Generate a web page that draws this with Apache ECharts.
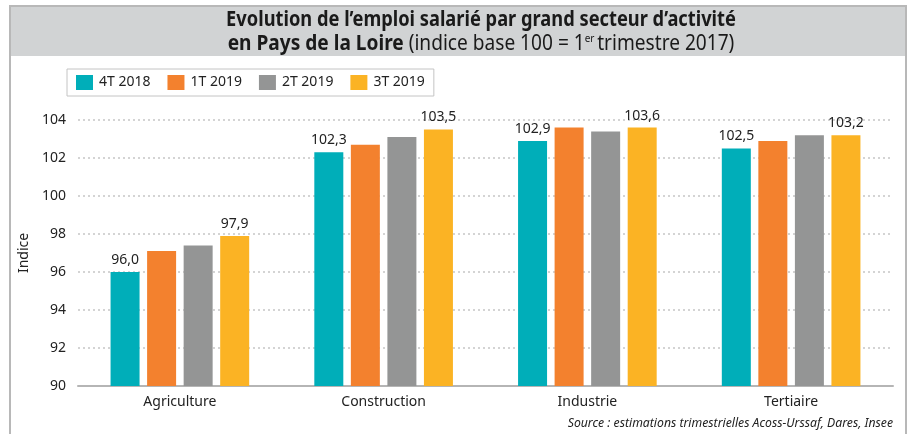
<!DOCTYPE html>
<html>
<head>
<meta charset="utf-8">
<script src="https://cdn.jsdelivr.net/npm/echarts@6/dist/echarts.min.js"></script>
<style>
  html, body { margin: 0; padding: 0; background: #fff; }
  #chart { width: 912px; height: 434px; }
</style>
</head>
<body>
<div id="chart"></div>
<script>
/* ---------------  Données  --------------- */
const secteurs = ['Agriculture', 'Construction', 'Industrie', 'Tertiaire'];
const trimestres = ['4T 2018', '1T 2019', '2T 2019', '3T 2019'];
const t4_2018 = [96.0, 102.3, 102.9, 102.5];
const t1_2019 = [97.1, 102.7, 103.6, 102.9];
const t2_2019 = [97.4, 103.1, 103.4, 103.2];
const t3_2019 = [97.9, 103.5, 103.6, 103.2];
const couleurs = ['#00aeb9', '#f3812e', '#949595', '#fbb324'];

/* ---------------  Police  --------------- */
const police = '"Noto Sans", "Open Sans", sans-serif';

const fmt = (p) => p.value.toFixed(1).replace('.', ',');

function serie(nom, valeurs, idx, avecLabel) {
  return {
    name: nom,
    type: 'bar',
    data: valeurs,
    barWidth: 29,
    barGap: '26%',
    itemStyle: { color: couleurs[idx] },
    label: {
      show: avecLabel,
      position: 'top',
      distance: 5,
      formatter: fmt,
      fontFamily: police,
      fontSize: 14,
      color: '#222'
    }
  };
}

const chart = echarts.init(document.getElementById('chart'));

/* titre : police condensée simulée par scaleX */
const titreRich = {
  b: { fontFamily: police, fontWeight: 'bold', fontSize: 21, fill: '#1a1a1a' },
  n: { fontFamily: police, fontWeight: 'normal', fontSize: 21, fill: '#1a1a1a' },
  s: { fontFamily: police, fontWeight: 'normal', fontSize: 11, fill: '#1a1a1a', verticalAlign: 'top', padding: [0, 3, 10, 0] }
};

chart.setOption({
  animation: false,
  backgroundColor: '#ffffff',
  textStyle: { fontFamily: police, color: '#222' },
  graphic: [
    {
      type: 'rect',
      shape: { x: 10, y: 6, width: 896, height: 440 },
      style: { fill: 'none', stroke: '#b8b8b8', lineWidth: 2 },
      z: 0
    },
    {
      type: 'rect',
      shape: { x: 11, y: 7, width: 894, height: 49 },
      style: { fill: '#d1d3d4' },
      z: 0
    },
    {
      type: 'text',
      x: 481,
      y: 20,
      scaleX: 0.87,
      style: {
        text: '{b|Evolution de l’emploi salarié par grand secteur d’activité}',
        rich: titreRich,
        align: 'center',
        verticalAlign: 'middle'
      }
    },
    {
      type: 'text',
      x: 481,
      y: 44,
      scaleX: 0.91,
      style: {
        text: '{b|en Pays de la Loire}{n| (indice base 100 = 1}{s|er}{n|trimestre 2017)}',
        rich: titreRich,
        align: 'center',
        verticalAlign: 'middle'
      }
    },
    {
      type: 'text',
      x: 893,
      y: 423,
      scaleX: 0.94,
      style: {
        text: 'Source : estimations trimestrielles Acoss-Urssaf, Dares, Insee',
        font: 'italic 13px "Noto Sans", "Open Sans", sans-serif',
        fill: '#222',
        align: 'right',
        verticalAlign: 'middle'
      }
    }
  ],
  legend: {
    data: trimestres,
    left: 67,
    top: 69,
    orient: 'horizontal',
    itemWidth: 17,
    itemHeight: 15,
    itemGap: 17,
    padding: [6, 9, 6, 9],
    borderColor: '#c4c4c4',
    borderWidth: 1,
    icon: 'rect',
    textStyle: { fontFamily: police, fontSize: 14, color: '#222', padding: [0, 0, 0, 1] }
  },
  grid: { left: 78, right: 19, top: 120, bottom: 48 },
  xAxis: {
    type: 'category',
    data: secteurs,
    axisTick: { show: false },
    axisLine: { lineStyle: { color: '#b5b5b5', width: 2 } },
    axisLabel: { fontFamily: police, fontSize: 14, color: '#222', margin: 9 }
  },
  yAxis: {
    type: 'value',
    min: 90,
    max: 104,
    interval: 2,
    name: 'Indice',
    nameLocation: 'middle',
    nameGap: 41,
    nameTextStyle: { fontFamily: police, fontSize: 14, color: '#222' },
    axisLabel: { fontFamily: police, fontSize: 14, color: '#222', margin: 12 },
    axisLine: { show: false },
    axisTick: { show: false },
    splitLine: { lineStyle: { color: '#c6c6c6', type: [2, 3], width: 1.5 } }
  },
  series: [
    serie(trimestres[0], t4_2018, 0, true),
    serie(trimestres[1], t1_2019, 1, false),
    serie(trimestres[2], t2_2019, 2, false),
    serie(trimestres[3], t3_2019, 3, true)
  ]
});
</script>
</body>
</html>
